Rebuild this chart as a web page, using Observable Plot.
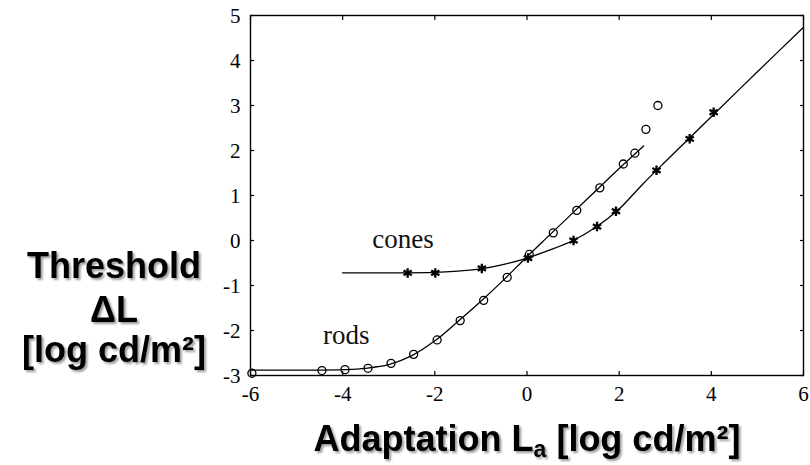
<!DOCTYPE html>
<html>
<head>
<meta charset="utf-8">
<script src="https://cdn.jsdelivr.net/npm/d3@7"></script>
<script src="https://cdn.jsdelivr.net/npm/@observablehq/plot@0.6"></script>
<style>
  html, body { margin: 0; padding: 0; background: #fff; }
</style>
</head>
<body>
<div id="chart"></div>
<script>
// Tick values
const xTicks = [-6, -4, -2, 0, 2, 4, 6];
const yTicks = [-3, -2, -1, 0, 1, 2, 3, 4, 5];

// Rod measurements (open circles)
const rodX = [-5.97, -4.45, -3.95, -3.45, -2.95, -2.46, -1.95, -1.45, -0.94, -0.43, 0.05, 0.57, 1.08, 1.58, 2.09, 2.34, 2.58, 2.84];
const rodY = [-2.95, -2.89, -2.87, -2.84, -2.73, -2.53, -2.21, -1.78, -1.33, -0.82, -0.31, 0.17, 0.67, 1.17, 1.70, 1.94, 2.47, 3.00];

// Cone measurements (asterisks)
const coneX = [-2.59, -1.99, -0.98, 0.02, 1.01, 1.52, 1.93, 2.81, 3.53, 4.05];
const coneY = [-0.72, -0.72, -0.62, -0.39, 0.00, 0.31, 0.65, 1.56, 2.26, 2.85];

// Fitted rod curve
const rodCurveX = [-6, -4.5, -4, -3.5, -3, -2.5, -2, -1.5, -1, -0.5, 0, 0.5, 1, 1.5, 2, 2.53];
const rodCurveY = [-2.88, -2.88, -2.87, -2.84, -2.76, -2.56, -2.23, -1.80, -1.35, -0.87, -0.36, 0.13, 0.62, 1.11, 1.60, 2.10];

// Fitted cone curve
const coneCurveX = [-4, -3, -2, -1.5, -1, -0.5, 0, 0.5, 1, 1.5, 2, 2.5, 3, 3.5, 4, 5, 6];
const coneCurveY = [-0.72, -0.72, -0.71, -0.68, -0.63, -0.53, -0.39, -0.21, 0.00, 0.30, 0.70, 1.24, 1.75, 2.25, 2.75, 3.75, 4.74];

// Annotations
const labelText = ["cones", "rods"];
const labelX = [-2.69, -3.92];
const labelY = [0.02, -2.11];

const zip = (xs, ys) => xs.map((x, i) => ({x, y: ys[i]}));
const rods = zip(rodX, rodY);
const cones = zip(coneX, coneY);
const rodCurve = zip(rodCurveX, rodCurveY);
const coneCurve = zip(coneCurveX, coneCurveY);
const labels = labelText.map((t, i) => ({t, x: labelX[i], y: labelY[i]}));

const serif = "'Liberation Serif', 'Times New Roman', Times, serif";
const noLabel = () => "";

const chart = Plot.plot({
  width: 810,
  height: 465,
  marginLeft: 250,
  marginRight: 7,
  marginTop: 15,
  marginBottom: 90,
  x: {domain: [-6, 6]},
  y: {domain: [-3, 5]},
  style: {background: "#fff", color: "#000"},
  marks: [
    // inward tick marks on all four sides
    Plot.axisX(xTicks, {anchor: "bottom", tickSize: -4, tickFormat: noLabel, label: null, strokeWidth: 1.2}),
    Plot.axisX(xTicks, {anchor: "top", tickSize: -4, tickFormat: noLabel, label: null, strokeWidth: 1.2}),
    Plot.axisY(yTicks, {anchor: "left", tickSize: -4, tickFormat: noLabel, label: null, strokeWidth: 1.2}),
    Plot.axisY(yTicks, {anchor: "right", tickSize: -4, tickFormat: noLabel, label: null, strokeWidth: 1.2}),
    // tick labels (serif)
    Plot.text(xTicks, {x: d => d, text: d => String(d), frameAnchor: "bottom", lineAnchor: "middle", dy: 19, fontSize: 21, fontFamily: serif, fill: "#000"}),
    Plot.text(yTicks, {y: d => d, text: d => String(d), frameAnchor: "left", textAnchor: "end", dx: -10, dy: 1, fontSize: 21, fontFamily: serif, fill: "#000"}),
    Plot.frame({stroke: "#000", strokeWidth: 1.4}),
    Plot.line(rodCurve, {x: "x", y: "y", curve: "catmull-rom", stroke: "#000", strokeWidth: 1.3}),
    Plot.line(coneCurve, {x: "x", y: "y", curve: "catmull-rom", stroke: "#000", strokeWidth: 1.3}),
    Plot.dot(rods, {x: "x", y: "y", r: 4, stroke: "#000", fill: "none", strokeWidth: 1.3}),
    Plot.dot(cones, {x: "x", y: "y", r: 4.5, symbol: "asterisk", stroke: "#000", strokeWidth: 2.3}),
    Plot.text(labels, {x: "x", y: "y", text: "t", fontSize: 27, fontFamily: serif, fill: "#111"})
  ]
});

document.getElementById("chart").appendChild(chart);

const svg = d3.select(chart);

// Drop-shadow filter for the bold titles
const defs = svg.append("defs");
const f = defs.append("filter").attr("id", "shadow")
  .attr("x", "-5%").attr("y", "-10%").attr("width", "115%").attr("height", "130%");
f.append("feDropShadow")
  .attr("dx", 2).attr("dy", 2).attr("stdDeviation", 0.8)
  .attr("flood-color", "#000").attr("flood-opacity", 0.4);

const sans = "'Liberation Sans', Arial, Helvetica, sans-serif";

// Left title
const leftLines = [["Threshold", 278], ["\u0394L", 322], ["[log cd/m\u00B2]", 362]];
const gl = svg.append("g").attr("filter", "url(#shadow)");
leftLines.forEach(([txt, base]) => {
  gl.append("text")
    .attr("x", 114).attr("y", base)
    .attr("text-anchor", "middle")
    .attr("font-family", sans).attr("font-weight", "bold")
    .attr("font-size", 36)
    .attr("fill", "#000")
    .text(txt);
});

// Bottom title
const tb = svg.append("g").attr("filter", "url(#shadow)")
  .append("text")
  .attr("x", 527).attr("y", 451)
  .attr("text-anchor", "middle")
  .attr("font-family", sans).attr("font-weight", "bold")
  .attr("font-size", 36)
  .attr("fill", "#000");
tb.append("tspan").text("Adaptation L");
tb.append("tspan").attr("dy", 6).attr("font-size", 23).text("a");
tb.append("tspan").attr("dy", -6).text(" [log cd/m\u00B2]");
</script>
</body>
</html>
